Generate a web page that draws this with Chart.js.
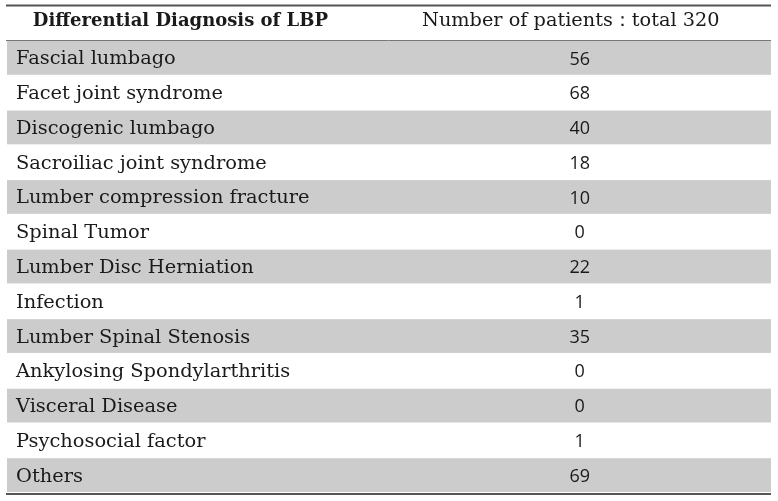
<!DOCTYPE html>
<html>
<head>
<meta charset="utf-8">
<script src="https://cdn.jsdelivr.net/npm/chart.js@4.4.0/dist/chart.umd.min.js"></script>
<style>
  html, body { margin: 0; padding: 0; background: #fff; }
  #wrap { width: 778px; height: 501px; }
</style>
</head>
<body>
<div id="wrap"><canvas id="lbpTable" width="778" height="501"></canvas></div>
<script>
// table data
const headers = ["Differential Diagnosis of LBP", "Number of patients\uFF1Atotal 320"];
const diagnoses = [
  "Fascial lumbago",
  "Facet joint syndrome",
  "Discogenic lumbago",
  "Sacroiliac joint syndrome",
  "Lumber compression fracture",
  "Spinal Tumor",
  "Lumber Disc Herniation",
  "Infection",
  "Lumber Spinal Stenosis",
  "Ankylosing Spondylarthritis",
  "Visceral Disease",
  "Psychosocial factor",
  "Others"
];
const patients = [56, 68, 40, 18, 10, 0, 22, 1, 35, 0, 0, 1, 69];

const SERIF = "'DejaVu Serif', serif";
const SANS = "'Open Sans', 'Noto Sans', sans-serif";

// draws the table rows / text on top of the category scale
const tablePlugin = {
  id: "tablePlugin",
  beforeDatasetsDraw(chart) {
    const { ctx, chartArea } = chart;
    const y = chart.scales.y;
    const step = (chartArea.bottom - chartArea.top) / diagnoses.length;
    ctx.save();
    ctx.fillStyle = "#cccccc";
    diagnoses.forEach((d, i) => {
      if (i % 2 === 0) {
        const cy = y.getPixelForValue(i);
        ctx.fillRect(chartArea.left + 1, cy - step / 2, chartArea.right - chartArea.left - 1, step - 1);
      }
    });
    ctx.restore();
  },
  afterDatasetsDraw(chart) {
    const { ctx, chartArea } = chart;
    const meta = chart.getDatasetMeta(0);
    const x = chart.scales.x;
    const numX = x.getPixelForValue(75);
    ctx.save();
    ctx.textBaseline = "middle";

    // header
    ctx.fillStyle = "#1a1a1a";
    ctx.font = "bold 18px " + SERIF;
    ctx.textAlign = "center";
    ctx.fillText(headers[0], x.getPixelForValue(22.8), 21);
    ctx.font = "19.3px " + SERIF;
    ctx.fillText(headers[1], numX - 9, 21);

    // rows
    meta.data.forEach((bar, i) => {
      ctx.font = "19.4px " + SERIF;
      ctx.textAlign = "left";
      ctx.fillStyle = "#1a1a1a";
      ctx.fillText(diagnoses[i], chartArea.left + 10, bar.y + 1);
      ctx.font = "18px " + SANS;
      ctx.textAlign = "center";
      ctx.fillText(String(patients[i]), numX, bar.y + 1);
    });

    // rules
    ctx.strokeStyle = "#555";
    ctx.lineWidth = 2;
    ctx.beginPath();
    ctx.moveTo(chartArea.left, 5.5);
    ctx.lineTo(chartArea.right, 5.5);
    ctx.moveTo(chartArea.left, chartArea.bottom + 1);
    ctx.lineTo(chartArea.right, chartArea.bottom + 1);
    ctx.stroke();
    ctx.strokeStyle = "#777";
    ctx.lineWidth = 1;
    ctx.beginPath();
    ctx.moveTo(chartArea.left, chartArea.top - 0.5);
    ctx.lineTo(chartArea.right, chartArea.top - 0.5);
    ctx.stroke();
    ctx.restore();
  }
};

new Chart(document.getElementById("lbpTable"), {
  type: "bar",
  data: {
    labels: diagnoses,
    datasets: [{
      label: headers[1],
      data: patients,
      backgroundColor: "rgba(0,0,0,0)",
      borderWidth: 0
    }]
  },
  options: {
    indexAxis: "y",
    responsive: false,
    animation: false,
    events: [],
    layout: { padding: { top: 41, left: 6, right: 7, bottom: 8 } },
    scales: {
      x: { display: false, min: 0, max: 100 },
      y: { display: false }
    },
    plugins: {
      legend: { display: false },
      tooltip: { enabled: false }
    }
  },
  plugins: [tablePlugin]
});
</script>
</body>
</html>
